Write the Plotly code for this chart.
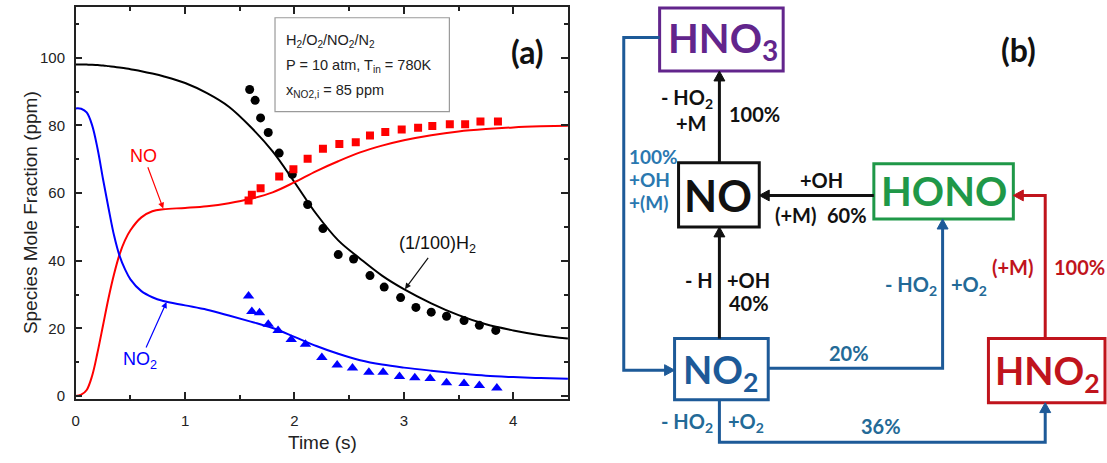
import plotly.graph_objects as go

W, H = 1107, 463

# ---------------- panel (a): simulated profiles ----------------
t_sim = [0, 0.05, 0.1, 0.15, 0.2, 0.25, 0.3, 0.35, 0.4, 0.45, 0.5, 0.6, 0.7, 0.8,
         1.0, 1.2, 1.4, 1.6, 1.8, 2.0, 2.2, 2.4, 2.6, 2.8, 3.0, 3.25, 3.5, 3.75,
         4.0, 4.25, 4.5]
h2_sim = [98, 98, 97.95, 97.9, 97.8, 97.7, 97.5, 97.3, 97.1, 96.9, 96.6, 96.0, 95.3,
          94.5, 92.5, 89.5, 85.5, 79.5, 72.3, 63.2, 53.8, 46.0, 40.6, 35.6, 31.6,
          27.4, 23.9, 21.2, 19.4, 18.0, 17.0]
no_sim = [0, 0.4, 1.8, 6, 13, 21, 29, 36, 41.8, 46, 49, 52.8, 54.6, 55.2, 55.6, 56.1,
          57.0, 58.3, 60.2, 63.2, 66.5, 69.4, 72.0, 74.0, 75.6, 77.1, 78.2, 78.9,
          79.4, 79.7, 79.9]
no2_sim = [85, 84.9, 83.8, 80, 73, 64, 55.5, 47.5, 41.5, 37.5, 34.5, 31.0, 29.2, 28.1,
           26.8, 25.5, 23.8, 22.0, 20.1, 17.5, 14.8, 12.5, 10.6, 9.3, 8.4, 7.5, 6.7,
           6.0, 5.6, 5.3, 5.1]

# ---------------- panel (a): measurements ----------------
t_h2_exp = [1.59, 1.64, 1.69, 1.76, 1.86, 1.98, 2.12, 2.26, 2.40, 2.54, 2.69, 2.82,
            2.97, 3.11, 3.25, 3.39, 3.55, 3.69, 3.84]
h2_exp = [90.6, 87.4, 82.2, 77.9, 71.8, 65.5, 56.6, 49.5, 41.8, 40.5, 35.6, 32.2,
          29.1, 26.2, 24.8, 23.6, 22.3, 20.9, 19.4]
t_no_exp = [1.58, 1.61, 1.69, 1.86, 1.99, 2.12, 2.26, 2.41, 2.56, 2.69, 2.83, 2.98,
            3.13, 3.26, 3.42, 3.56, 3.70, 3.86]
no_exp = [57.8, 59.5, 61.4, 64.9, 67.0, 70.1, 73.1, 74.5, 75.0, 77.0, 78.0, 78.8,
          79.3, 79.8, 80.3, 80.3, 81.1, 81.1]
t_no2_exp = [1.58, 1.61, 1.68, 1.76, 1.85, 1.97, 2.10, 2.25, 2.39, 2.53, 2.68, 2.81,
             2.96, 3.10, 3.24, 3.39, 3.55, 3.69, 3.85]
no2_exp = [29.6, 25.0, 24.6, 21.2, 19.4, 16.7, 15.3, 11.4, 9.2, 8.3, 7.0, 7.0, 5.8,
           5.4, 5.2, 3.9, 3.7, 3.1, 2.4]

x_ticks = [0, 1, 2, 3, 4]
y_ticks = [0, 20, 40, 60, 80, 100]

conditions = ["H<sub>2</sub>/O<sub>2</sub>/NO<sub>2</sub>/N<sub>2</sub>",
              "P = 10 atm, T<sub>in</sub> = 780K",
              "x<sub>NO2,i</sub> = 85 ppm"]

# ---------------- panel (b): reaction pathway ----------------
species = ["HNO<sub>3</sub>", "NO", "HONO", "NO<sub>2</sub>", "HNO<sub>2</sub>"]
pathway_labels = ["- HO<sub>2</sub>", "+M", "100%",
                  "100%", "+OH", "+(M)",
                  "+OH", "(+M)", "60%",
                  "- H", "+OH", "40%",
                  "20%", "- HO<sub>2</sub>", "+O<sub>2</sub>",
                  "(+M)", "100%",
                  "- HO<sub>2</sub>", "+O<sub>2</sub>", "36%"]


def px(x):
    return x / W


def py(y):
    return 1 - y / H


fig = go.Figure()

BLUE_L = "#0000ff"
RED_L = "#ff0000"

fig.add_trace(go.Scatter(x=t_sim, y=h2_sim, mode="lines", line=dict(color="black", width=2, shape="spline")))
fig.add_trace(go.Scatter(x=t_sim, y=no_sim, mode="lines", line=dict(color=RED_L, width=2, shape="spline")))
fig.add_trace(go.Scatter(x=t_sim, y=no2_sim, mode="lines", line=dict(color=BLUE_L, width=2, shape="spline")))
fig.add_trace(go.Scatter(x=t_h2_exp, y=h2_exp, mode="markers",
                         marker=dict(symbol="circle", size=9, color="black")))
fig.add_trace(go.Scatter(x=t_no_exp, y=no_exp, mode="markers",
                         marker=dict(symbol="square", size=8, color=RED_L)))
fig.add_trace(go.Scatter(x=t_no2_exp, y=no2_exp, mode="markers",
                         marker=dict(symbol="triangle-up", size=10, color=BLUE_L)))

axis_font = dict(family="Liberation Sans, Arial, sans-serif", size=15, color="#222")
x0p, x1p, y0p, y1p = 72, 566, 7, 404

common_axis = dict(showline=True, linecolor="#222", linewidth=1.5, mirror="allticks",
                   ticks="inside", ticklen=7, tickwidth=1.5, tickcolor="#222",
                   showgrid=False, zeroline=False, tickfont=axis_font)

fig.update_layout(
    width=W, height=H,
    margin=dict(l=0, r=0, t=0, b=0),
    paper_bgcolor="white", plot_bgcolor="white",
    showlegend=False,
    xaxis=dict(domain=[px(x0p), px(x1p)], range=[0, 4.5], tickvals=x_ticks,
               ticklabelstandoff=7,
               minor=dict(ticks="inside", ticklen=4, tickwidth=1.5, tickcolor="#222", dtick=0.5),
               **common_axis),
    yaxis=dict(domain=[py(y1p), py(y0p)], range=[-0.8, 115], tickvals=y_ticks,
               ticklabelstandoff=6,
               minor=dict(ticks="inside", ticklen=4, tickwidth=1.5, tickcolor="#222", dtick=10),
               **common_axis),
)

ann = []
shapes = []


def note(text, x, y, size, color, family, xanchor="center", **kw):
    ann.append(dict(text=text, xref="paper", yref="paper", x=px(x), y=py(y),
                    xanchor=xanchor, yanchor="middle", showarrow=False,
                    font=dict(family=family, size=size, color=color), **kw))


AX = "Liberation Sans, Arial, sans-serif"

# axis titles
note("Time (s)", 320, 448, 19, "#222", AX)
note("Species Mole Fraction (ppm)", 26, 215, 19, "#222", AX, textangle=-90)

# curve labels with arrows
for text, tip, tail, col in [("NO", (0.8, 55.4), (0.62, 71), RED_L),
                             ("NO<sub>2</sub>", (0.83, 27.8), (0.59, 10.5), BLUE_L),
                             ("(1/100)H<sub>2</sub>", (3.01, 31.6), (3.31, 44.7), "#111")]:
    ann.append(dict(text=text, x=tip[0], y=tip[1], ax=tail[0], ay=tail[1], axref="x", ayref="y",
                    xref="x", yref="y", showarrow=True, arrowhead=2, arrowsize=1,
                    arrowwidth=1.2, arrowcolor=col, font=dict(family=AX, size=18, color=col)))

# conditions box
shapes.append(dict(type="rect", xref="paper", yref="paper", x0=px(272), x1=px(447), y0=py(113), y1=py(18),
                   line=dict(color="#9a9a9a", width=1.2), fillcolor="white", layer="above"))
for i, txt in enumerate(conditions):
    note(txt, 281, 42 + 25 * i, 14.5, "#222", AX, xanchor="left")

note("<b>(a)</b>", 525, 52, 32, "#111", "Lato, sans-serif")

# ---------------- diagram ----------------
DFONT = "Liberation Sans Narrow, Arial Narrow, Lato, sans-serif"
PURPLE = "#62258c"
GREEN = "#1f9848"
BLUE = "#1d5a98"
BLUE_T = "#2a78b0"
TEAL = "#236a97"
RED = "#c0141c"
BLACK = "#111111"

boxes = {
    "HNO3": (658, 8, 782, 72, PURPLE),
    "NO": (677, 165, 758, 230, BLACK),
    "HONO": (873, 166, 1013, 222, GREEN),
    "NO2": (673, 343, 767, 405, BLUE),
    "HNO2": (988, 343, 1105, 408, RED),
}
box_text_pos = {
    "HNO3": (722, 41, 40),
    "NO": (717, 198, 43),
    "HONO": (943, 194, 40),
    "NO2": (719, 377, 38),
    "HNO2": (1047, 378, 38),
}

for (name, (bx0, by0, bx1, by1, col)), label in zip(boxes.items(), species):
    shapes.append(dict(type="rect", xref="paper", yref="paper", x0=px(bx0), x1=px(bx1),
                       y0=py(by1), y1=py(by0), line=dict(color=col, width=3), fillcolor="white",
                       layer="above"))
    tx, ty, fs = box_text_pos[name]
    note("<b>" + label + "</b>", tx, ty, fs, col, DFONT)

arrows = [
    ([(718, 165), (718, 72)], BLACK),
    ([(873, 198), (758, 198)], BLACK),
    ([(658, 38), (622, 38), (622, 375), (673, 375)], BLUE),
    ([(718, 343), (718, 230)], BLACK),
    ([(767, 373), (942, 373), (942, 222)], BLUE),
    ([(718, 405), (718, 448), (1045, 448), (1045, 408)], BLUE),
    ([(1045, 343), (1045, 198), (1013, 198)], RED),
]

HEAD_L, HEAD_W = 10, 5.5
for pts, col in arrows:
    (xa, ya), (xb, yb) = pts[-2], pts[-1]
    d = ((xb - xa) ** 2 + (yb - ya) ** 2) ** 0.5
    ux, uy = (xb - xa) / d, (yb - ya) / d
    line_pts = pts[:-1] + [(xb - ux * HEAD_L * 0.7, yb - uy * HEAD_L * 0.7)]
    path = "M " + " L ".join(f"{px(x):.5f},{py(y):.5f}" for x, y in line_pts)
    shapes.append(dict(type="path", xref="paper", yref="paper", path=path,
                       line=dict(color=col, width=3), layer="above"))
    bx, by = xb - ux * HEAD_L, yb - uy * HEAD_L
    nx, ny = -uy, ux
    tri = [(xb, yb), (bx + nx * HEAD_W, by + ny * HEAD_W), (bx - nx * HEAD_W, by - ny * HEAD_W)]
    tpath = "M " + " L ".join(f"{px(x):.5f},{py(y):.5f}" for x, y in tri) + " Z"
    shapes.append(dict(type="path", xref="paper", yref="paper", path=tpath,
                       line=dict(color=col, width=1), fillcolor=col, layer="above"))

# (x, y, xanchor, colour, size) for each pathway label
label_pos = [
    (714, 100, "right", BLACK, 20), (708, 125, "right", BLACK, 20), (726, 115, "left", BLACK, 20),
    (625, 159, "left", BLUE_T, 19), (625, 182, "left", BLUE_T, 19), (625, 205, "left", BLUE_T, 19),
    (820, 182, "center", BLACK, 20), (794, 218, "center", BLACK, 20), (846, 218, "center", BLACK, 20),
    (714, 284, "right", BLACK, 20), (724, 284, "left", BLACK, 20), (726, 307, "left", BLACK, 20),
    (848, 358, "center", TEAL, 20), (938, 289, "right", TEAL, 20), (948, 289, "left", TEAL, 20),
    (1035, 271, "right", RED, 20), (1052, 271, "left", RED, 20),
    (714, 428, "right", TEAL, 20), (725, 428, "left", TEAL, 20), (880, 432, "center", TEAL, 20),
]
for txt, (lx, ly, anc, col, fs) in zip(pathway_labels, label_pos):
    note("<b>" + txt + "</b>", lx, ly, fs, col, DFONT, xanchor=anc)

note("<b>(b)</b>", 1018, 50, 32, "#111", "Lato, sans-serif")

fig.update_layout(annotations=ann, shapes=shapes)
fig.write_html("out.html")
